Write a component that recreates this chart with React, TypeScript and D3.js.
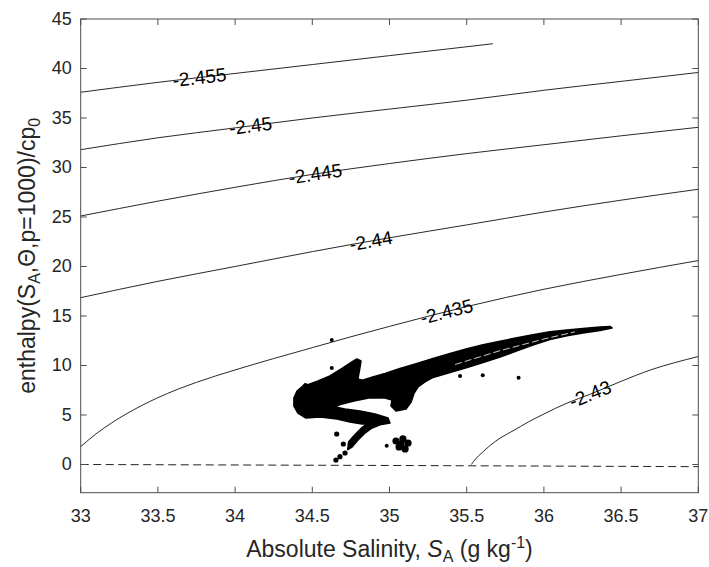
import React from "react";
import * as d3 from "d3";

// ---------- data ----------
const xTicks = [33, 33.5, 34, 34.5, 35, 35.5, 36, 36.5, 37];
const yTicks = [0, 5, 10, 15, 20, 25, 30, 35, 40, 45];

const contourLevels = ["-2.455", "-2.45", "-2.445", "-2.44", "-2.435", "-2.43"];
const contour2455 = [[33, 37.6], [33.5, 38.6], [34, 39.5], [34.5, 40.4], [35, 41.3], [35.67, 42.5]];
const contour245 = [[33, 31.8], [33.5, 33.0], [34, 34.0], [34.5, 35.0], [35, 35.9], [35.5, 36.8], [36, 37.8], [36.5, 38.7], [37, 39.6]];
const contour2445 = [[33, 25.1], [33.5, 26.6], [34, 28.0], [34.5, 29.3], [35, 30.4], [35.5, 31.4], [36, 32.3], [36.5, 33.2], [37, 34.06]];
const contour244 = [[33, 16.85], [33.5, 18.5], [34, 20.0], [34.5, 21.5], [35, 22.9], [35.5, 24.2], [36, 25.5], [36.5, 26.7], [37, 27.8]];
const contour2435 = [[33, 1.8], [33.1, 3.1], [33.2, 4.2], [33.3, 5.15], [33.5, 6.75], [33.75, 8.3], [34, 9.55], [34.25, 10.7], [34.5, 11.8], [34.75, 12.9], [35, 13.95], [35.5, 15.95], [36, 17.7], [36.5, 19.2], [37, 20.6]];
const contour243 = [[35.53, 0], [35.56, 0.6], [35.6, 1.2], [35.65, 1.9], [35.72, 2.7], [35.8, 3.4], [35.9, 4.3], [36.0, 5.1], [36.15, 6.2], [36.3, 7.1], [36.5, 8.4], [36.7, 9.6], [36.85, 10.3], [37, 10.9]];
const contourLines = [contour2455, contour245, contour2445, contour244, contour2435, contour243];
const labelSA = [33.77, 34.1, 34.52, 34.88, 35.37, 36.3];

const zeroLine = [[33, 0], [35, -0.1], [37, -0.22]];

// outline of the dense cloud of observations
const cloudOutline = [
  [34.381, 6.72], [34.401, 7.42], [34.433, 7.83], [34.452, 8.15], [34.472, 8.05], [34.537, 8.43], [34.614, 8.94],
  [34.698, 9.75], [34.757, 10.35], [34.789, 10.66], [34.815, 10.45], [34.806, 9.55], [34.795, 8.64],
  [34.825, 8.5], [34.886, 8.8], [34.971, 9.2], [35.068, 9.7], [35.178, 10.2], [35.282, 10.7],
  [35.392, 11.2], [35.502, 11.7], [35.606, 12.1], [35.716, 12.45], [35.826, 12.8], [35.929, 13.1],
  [36.039, 13.41], [36.149, 13.59], [36.253, 13.74], [36.363, 13.89], [36.428, 13.94], [36.441, 13.79],
  [36.363, 13.55], [36.253, 13.28], [36.149, 13.0], [36.039, 12.62], [35.929, 12.08], [35.826, 11.5],
  [35.716, 10.85], [35.606, 10.3], [35.502, 9.8], [35.392, 9.3], [35.282, 8.8], [35.23, 8.35],
  [35.185, 7.85], [35.159, 7.2], [35.14, 6.31], [35.107, 5.61], [35.042, 5.4], [35.01, 5.91],
  [35.016, 6.52], [34.971, 6.72], [34.874, 6.75], [34.777, 6.45], [34.68, 6.05], [34.648, 5.81],
  [34.712, 5.61], [34.809, 5.4], [34.906, 5.1], [34.99, 4.7], [35.003, 4.19],
  [34.939, 4.01], [34.887, 3.69], [34.841, 3.18], [34.796, 2.47], [34.757, 1.77], [34.73, 1.5],
  [34.735, 2.27], [34.774, 2.98], [34.819, 3.69], [34.865, 4.19],
  [34.822, 4.09], [34.744, 4.29], [34.66, 4.6], [34.55, 4.8], [34.459, 4.7], [34.407, 5.2], [34.381, 5.91],
];
const cloudGap = [[35.425, 10.1], [35.716, 11.5], [36.007, 12.7], [36.201, 13.4]];
const clusterPoints = [[35.042, 2.37], [35.087, 2.58], [35.12, 2.17], [35.062, 1.77], [35.101, 1.57], [35.075, 2.07]];
const tailPoints = [[34.658, 3.08], [34.701, 2.07], [34.679, 0.79], [34.712, 1.16], [34.653, 0.45]];
const strayPoints = [[34.626, 12.58], [34.626, 9.75], [35.457, 8.94], [35.604, 9.01], [35.836, 8.77], [34.982, 1.9]];

// ---------- layout ----------
const W = 709, H = 567;
const x = d3.scaleLinear().domain([33, 37]).range([80.7, 698.3]);
const y = d3.scaleLinear().domain([-2.85, 45]).range([492.7, 19]);
const X0 = x.range()[0], X1 = x.range()[1], Y0 = y.range()[0], Y1 = y.range()[1];
const TICK = 6;
const FONT = "'Liberation Sans', Arial, Helvetica, sans-serif";
const TXT = "#262626";

const line = d3.line<number[]>().x(d => x(d[0])).y(d => y(d[1])).curve(d3.curveMonotoneX);
const straight = d3.line<number[]>().x(d => x(d[0])).y(d => y(d[1]));
const poly = d3.line<number[]>().x(d => x(d[0])).y(d => y(d[1])).curve(d3.curveLinearClosed);

function interp(pts: number[][], sa: number) {
  for (let i = 0; i < pts.length - 1; i++) {
    const a = pts[i], b = pts[i + 1];
    if (sa >= a[0] && sa <= b[0]) {
      const t = (sa - a[0]) / (b[0] - a[0]);
      return a[1] + t * (b[1] - a[1]);
    }
  }
  return pts[pts.length - 1][1];
}

export default function App() {
  return (
    <div style={{ position: "fixed", left: 0, top: 0 }}>
      <svg width={W} height={H} style={{ display: "block", background: "#fff" }} fontFamily={FONT}>
        <rect x={0} y={0} width={W} height={H} fill="#fff" />
        {/* zero line */}
        <path d={straight(zeroLine) || ""} fill="none" stroke="#222" strokeWidth={1} strokeDasharray="8 4.5" />
        {/* contours */}
        {contourLines.map((pts, i) => (
          <path key={i} d={line(pts) || ""} fill="none" stroke="#111" strokeWidth={0.9} />
        ))}
        {/* data cloud */}
        <path d={poly(cloudOutline) || ""} fill="#000" stroke="#000" strokeWidth={1.6} strokeLinejoin="round" />
        <path d={straight(cloudGap) || ""} fill="none" stroke="#fff" strokeWidth={0.8} strokeDasharray="7 3" />
        {clusterPoints.map((p, i) => <circle key={"c" + i} cx={x(p[0])} cy={y(p[1])} r={3.6} fill="#000" />)}
        {tailPoints.map((p, i) => <circle key={"t" + i} cx={x(p[0])} cy={y(p[1])} r={2.6} fill="#000" />)}
        {strayPoints.map((p, i) => <circle key={"s" + i} cx={x(p[0])} cy={y(p[1])} r={2} fill="#000" />)}
        {/* contour labels */}
        {contourLines.map((pts, i) => {
          const sa = labelSA[i];
          const px = x(sa), py = y(interp(pts, sa));
          const dx = x(sa + 0.05) - x(sa - 0.05);
          const dy = y(interp(pts, sa + 0.05)) - y(interp(pts, sa - 0.05));
          const ang = (Math.atan2(dy, dx) * 180) / Math.PI;
          return (
            <text key={"l" + i} x={px} y={py} transform={`rotate(${ang},${px},${py})`} textAnchor="middle" dominantBaseline="central" fontSize={19} fill="#000">
              {contourLevels[i]}
            </text>
          );
        })}
        {/* axes box */}
        <rect x={X0} y={Y1} width={X1 - X0} height={Y0 - Y1} fill="none" stroke="#4d4d4d" strokeWidth={1} />
        {xTicks.map((t, i) => (
          <g key={"xt" + i}>
            <line x1={x(t)} x2={x(t)} y1={Y0} y2={Y0 - TICK} stroke="#4d4d4d" />
            <line x1={x(t)} x2={x(t)} y1={Y1} y2={Y1 + TICK} stroke="#4d4d4d" />
            <text x={x(t)} y={Y0 + 23} textAnchor="middle" dominantBaseline="central" fontSize={18} fill={TXT}>{t}</text>
          </g>
        ))}
        {yTicks.map((t, i) => (
          <g key={"yt" + i}>
            <line x1={X0} x2={X0 + TICK} y1={y(t)} y2={y(t)} stroke="#4d4d4d" />
            <line x1={X1} x2={X1 - TICK} y1={y(t)} y2={y(t)} stroke="#4d4d4d" />
            <text x={X0 - 9} y={y(t)} textAnchor="end" dominantBaseline="central" fontSize={18} fill={TXT}>{t}</text>
          </g>
        ))}
        {/* axis labels */}
        <text x={(X0 + X1) / 2} y={557} textAnchor="middle" fontSize={23} fill={TXT}>
          Absolute Salinity, <tspan fontStyle="italic">S</tspan>
          <tspan fontSize={16} dy={5}>A</tspan>
          <tspan dy={-5}> (g kg</tspan>
          <tspan fontSize={16} dy={-9}>-1</tspan>
          <tspan dy={9}>)</tspan>
        </text>
        <text transform={`translate(35,${(Y0 + Y1) / 2}) rotate(-90)`} textAnchor="middle" fontSize={23} fill={TXT}>
          enthalpy(S<tspan fontSize={16} dy={5}>A</tspan>
          <tspan dy={-5}>,Θ,p=1000)/cp</tspan>
          <tspan fontSize={16} dy={5}>0</tspan>
        </text>
      </svg>
    </div>
  );
}
